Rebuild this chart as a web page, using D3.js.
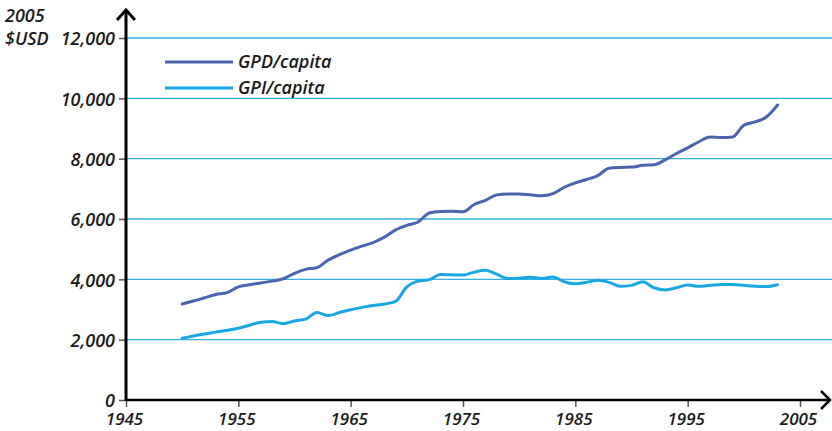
<!DOCTYPE html>
<meta charset="utf-8">
<style>
  body { margin: 0; background: #fff; }
  text { font-family: "Open Sans", sans-serif; font-style: italic; font-weight: 600; fill: #1a1a1a; }
</style>
<div id="chart"></div>
<script src="https://d3js.org/d3.v7.min.js"></script>
<script>
  // data (2005 $USD per capita)
  var years = d3.range(1950, 2004);
  var gdpPerCapita = [3180, 3280, 3390, 3500, 3560, 3750, 3820, 3880, 3940, 4020,
    4200, 4330, 4390, 4640, 4820, 4970, 5100, 5220, 5400, 5640,
    5790, 5900, 6200, 6250, 6260, 6240, 6480, 6620, 6800, 6830,
    6830, 6800, 6770, 6840, 7050, 7200, 7310, 7440, 7680, 7710,
    7720, 7780, 7800, 7960, 8170, 8360, 8560, 8720, 8700, 8720,
    9110, 9220, 9380, 9780];
  var gpiPerCapita = [2050, 2120, 2190, 2250, 2310, 2380, 2480, 2580, 2600, 2530,
    2620, 2680, 2900, 2800, 2900, 2990, 3070, 3130, 3180, 3270,
    3750, 3940, 3990, 4160, 4150, 4140, 4240, 4300, 4170, 4030,
    4040, 4070, 4030, 4080, 3920, 3850, 3900, 3970, 3900, 3770,
    3800, 3920, 3720, 3650, 3720, 3810, 3770, 3800, 3830, 3830,
    3800, 3770, 3760, 3820];
  var yTicks = [0, 2000, 4000, 6000, 8000, 10000, 12000];
  var xTicks = [1945, 1955, 1965, 1975, 1985, 1995, 2005];
  var seriesNames = ['GPD/capita', 'GPI/capita'];
  var seriesColors = ['#4a64ae', '#1aa7e1'];

  var width = 832, height = 431;
  var margin = { top: 38, right: 32, bottom: 31, left: 126 };

  var svg = d3.select('#chart').append('svg')
    .attr('width', width)
    .attr('height', height);

  var x = d3.scaleLinear().domain([1945, 2005]).range([margin.left, width - margin.right]);
  var y = d3.scaleLinear().domain([0, 12000]).range([height - margin.bottom, margin.top]);

  // gridlines
  svg.append('g').selectAll('line')
    .data(yTicks.filter(d => d > 0))
    .enter().append('line')
    .attr('x1', margin.left).attr('x2', width)
    .attr('y1', d => y(d)).attr('y2', d => y(d))
    .attr('stroke', '#36b0e4')
    .attr('stroke-width', 1.3);

  // y axis
  var yAxis = svg.append('g')
    .attr('transform', 'translate(' + margin.left + ',0)')
    .call(d3.axisLeft(y).tickValues(yTicks).tickFormat(d3.format(',')).tickSize(7).tickPadding(4));
  yAxis.select('.domain').remove();
  yAxis.selectAll('.tick line').attr('stroke', '#555').attr('stroke-width', 1.5);
  yAxis.selectAll('text').style('font-size', '18px').attr('dy', '0.38em');

  // x axis
  var xAxis = svg.append('g')
    .attr('transform', 'translate(0,' + y(0) + ')')
    .call(d3.axisBottom(x).tickValues(xTicks).tickFormat(d3.format('d')).tickSize(7).tickPadding(6));
  xAxis.select('.domain').remove();
  xAxis.selectAll('.tick line').attr('stroke', '#555').attr('stroke-width', 1.5);
  xAxis.selectAll('text').style('font-size', '17px').attr('dx', '-2px');

  // axis lines with arrow heads
  svg.append('line')
    .attr('x1', margin.left).attr('x2', margin.left)
    .attr('y1', y(0) + 1).attr('y2', 11)
    .attr('stroke', '#000').attr('stroke-width', 3);
  svg.append('path')
    .attr('d', 'M' + (margin.left - 9) + ',20 L' + margin.left + ',10 L' + (margin.left + 9) + ',20')
    .attr('fill', 'none').attr('stroke', '#000').attr('stroke-width', 3);
  svg.append('line')
    .attr('x1', margin.left).attr('x2', 829)
    .attr('y1', y(0)).attr('y2', y(0))
    .attr('stroke', '#000').attr('stroke-width', 2.5);
  svg.append('path')
    .attr('d', 'M821,' + (y(0) - 9) + ' L830,' + y(0) + ' L821,' + (y(0) + 9))
    .attr('fill', 'none').attr('stroke', '#000').attr('stroke-width', 2.5);

  // unit label
  svg.append('text').attr('x', 5).attr('y', 22).style('font-size', '18px').text('2005');
  svg.append('text').attr('x', 5).attr('y', 45).style('font-size', '18px').text('$USD');

  // lines
  var line = d3.line()
    .x(d => x(d.year))
    .y(d => y(d.value))
    .curve(d3.curveMonotoneX);

  [gdpPerCapita, gpiPerCapita].forEach(function(vals, i) {
    svg.append('path')
      .datum(years.map((yr, j) => ({ year: yr, value: vals[j] })))
      .attr('d', line)
      .attr('fill', 'none')
      .attr('stroke', seriesColors[i])
      .attr('stroke-width', 3)
      .attr('stroke-linecap', 'round');
  });

  // legend
  var legend = svg.append('g').selectAll('g')
    .data(seriesNames)
    .enter().append('g')
    .attr('transform', (d, i) => 'translate(165,' + (62 + i * 26) + ')');
  legend.append('line')
    .attr('x1', 0).attr('x2', 68)
    .attr('stroke', (d, i) => seriesColors[i])
    .attr('stroke-width', 3);
  legend.append('text')
    .attr('x', 73).attr('dy', '0.35em')
    .style('font-size', '18px')
    .text(d => d);
</script>
